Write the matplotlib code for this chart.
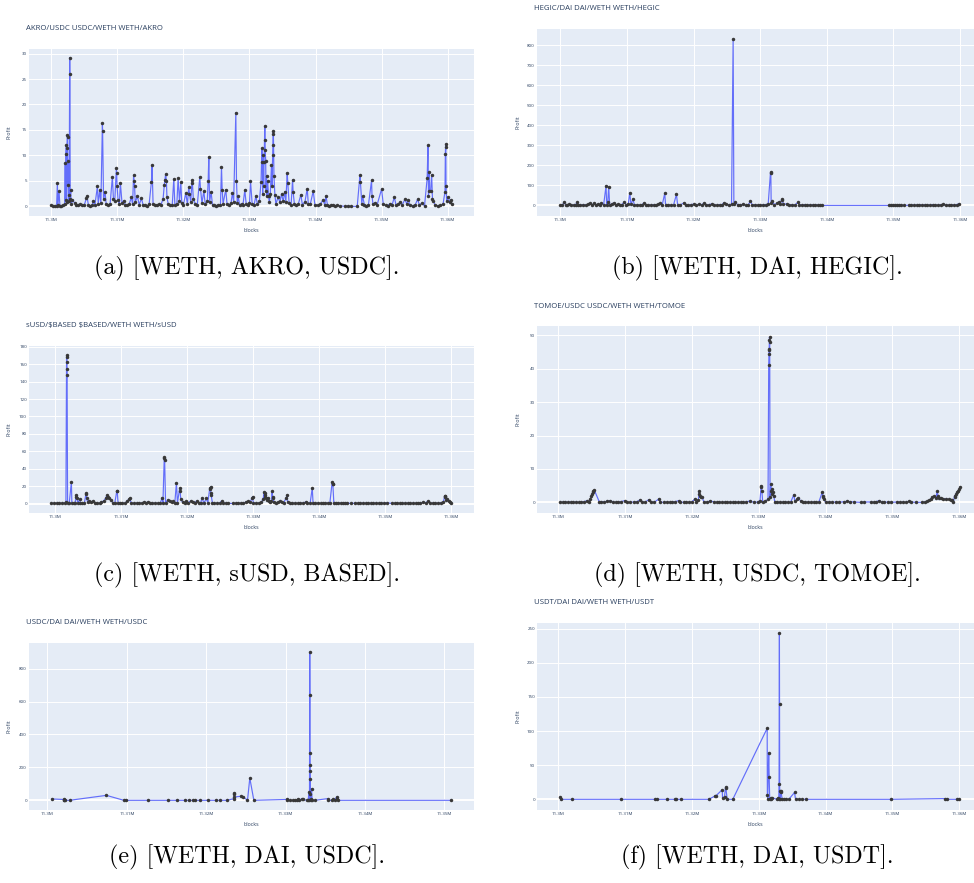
import matplotlib
matplotlib.use("Agg")
import matplotlib.pyplot as plt
from matplotlib.ticker import FuncFormatter, MultipleLocator

# (block in thousands, profit)

akro_points = [
    (11300.0, 0.2), (11300.25, 0.1), (11300.5, 0.0), (11300.8, 0.1), (11300.91, 4.5), (11301.0, 0.2),
    (11301.16, 3.0), (11301.3, 0.1), (11301.52, 0.0), (11301.8, 0.3), (11302.02, 0.5), (11302.1, 8.5),
    (11302.15, 1.2), (11302.2, 10.2), (11302.27, 12.0), (11302.3, 0.8), (11302.36, 11.5), (11302.42, 14.0),
    (11302.45, 13.6), (11302.5, 4.2), (11302.53, 9.0), (11302.6, 1.0), (11302.7, 2.2), (11302.78, 29.2),
    (11302.8, 26.0), (11302.86, 1.5), (11302.93, 3.3), (11303.0, 0.4), (11303.2, 1.3), (11303.54, 0.6),
    (11303.8, 0.3), (11304.1, 0.2), (11304.4, 0.4), (11304.7, 0.2), (11305.0, 0.3), (11305.3, 1.6),
    (11305.4, 2.0), (11305.6, 0.3), (11305.9, 0.1), (11306.2, 0.2), (11306.31, 1.0), (11306.6, 0.3),
    (11306.97, 3.9), (11307.1, 0.5), (11307.32, 3.2), (11307.5, 0.6), (11307.73, 16.3), (11307.76, 14.8),
    (11307.9, 1.5), (11308.13, 2.8), (11308.3, 0.4), (11308.6, 0.2), (11308.9, 0.5), (11309.24, 5.8),
    (11309.4, 1.4), (11309.6, 1.0), (11309.85, 7.5), (11309.9, 6.5), (11309.95, 4.0), (11310.1, 1.2),
    (11310.3, 0.4), (11310.45, 4.6), (11310.7, 0.6), (11310.96, 1.1), (11311.2, 0.3), (11311.5, 0.2),
    (11311.8, 0.5), (11312.12, 1.8), (11312.3, 0.4), (11312.45, 6.1), (11312.53, 5.0), (11312.6, 4.0),
    (11312.7, 0.8), (11313.03, 2.0), (11313.3, 0.3), (11313.64, 1.6), (11313.9, 0.2), (11314.2, 0.3),
    (11314.5, 0.1), (11314.8, 0.4), (11315.15, 4.8), (11315.25, 8.1), (11315.4, 0.5), (11315.7, 0.3),
    (11316.0, 0.2), (11316.3, 0.4), (11316.6, 0.3), (11316.92, 1.5), (11317.1, 4.2), (11317.2, 5.2),
    (11317.3, 6.3), (11317.42, 5.0), (11317.5, 1.8), (11317.7, 0.4), (11318.0, 0.3), (11318.3, 0.2),
    (11318.54, 5.4), (11318.7, 0.3), (11319.0, 0.5), (11319.19, 5.5), (11319.4, 1.0), (11319.6, 4.7),
    (11319.75, 0.6), (11320.0, 0.3), (11320.35, 2.6), (11320.6, 0.4), (11320.8, 3.8), (11320.91, 2.5),
    (11321.1, 0.9), (11321.3, 5.1), (11321.36, 4.5), (11321.5, 1.4), (11321.8, 0.5), (11322.1, 0.3),
    (11322.47, 5.7), (11322.58, 3.5), (11322.8, 0.6), (11323.08, 3.0), (11323.3, 0.4), (11323.6, 1.0),
    (11323.74, 4.9), (11323.84, 9.7), (11323.95, 0.8), (11324.19, 2.8), (11324.4, 0.2), (11324.7, 0.3),
    (11325.0, 0.1), (11325.3, 0.3), (11325.6, 0.2), (11325.76, 7.7), (11325.86, 3.3), (11326.0, 0.5),
    (11326.41, 3.3), (11326.6, 0.4), (11326.9, 0.3), (11327.2, 0.6), (11327.42, 2.7), (11327.6, 0.8),
    (11327.93, 18.4), (11328.03, 5.0), (11328.15, 0.6), (11328.28, 2.0), (11328.5, 0.3), (11328.8, 0.5),
    (11329.0, 0.2), (11329.29, 3.2), (11329.5, 0.4), (11329.8, 0.2), (11330.0, 0.6), (11330.15, 5.0),
    (11330.4, 0.5), (11330.7, 0.3), (11330.96, 2.0), (11331.2, 0.4), (11331.5, 1.0), (11331.75, 4.8),
    (11331.87, 11.4), (11331.95, 8.7), (11332.0, 2.5), (11332.07, 10.0), (11332.15, 4.0), (11332.2, 8.7),
    (11332.28, 13.0), (11332.32, 15.8), (11332.38, 11.0), (11332.45, 9.0), (11332.5, 3.0), (11332.58, 6.0),
    (11332.65, 2.0), (11332.75, 5.0), (11332.88, 2.0), (11333.0, 0.8), (11333.15, 2.4), (11333.33, 8.2),
    (11333.4, 4.0), (11333.5, 10.0), (11333.55, 12.0), (11333.59, 14.7), (11333.62, 14.3), (11333.7, 6.0),
    (11333.84, 2.3), (11334.0, 0.5), (11334.34, 1.8), (11334.6, 0.8), (11334.85, 2.4), (11335.1, 1.0),
    (11335.35, 2.9), (11335.5, 0.9), (11335.71, 6.6), (11335.8, 4.5), (11336.0, 0.6), (11336.3, 0.3),
    (11336.52, 5.2), (11336.6, 2.9), (11336.8, 0.4), (11337.1, 0.2), (11337.4, 0.5), (11337.78, 2.3),
    (11338.0, 0.3), (11338.4, 0.9), (11338.74, 3.5), (11338.9, 0.5), (11339.2, 0.4), (11339.65, 3.0),
    (11339.9, 0.3), (11340.3, 0.2), (11340.7, 0.4), (11341.16, 1.3), (11341.4, 0.2), (11341.57, 2.1),
    (11341.8, 0.3), (11342.1, 0.1), (11342.4, 0.2), (11342.68, 0.3), (11343.0, 0.1), (11343.3, 0.2),
    (11343.69, 0.1), (11344.5, 0.0), (11344.9, 0.1), (11345.3, 0.0), (11346.31, 0.0), (11346.72, 6.1),
    (11346.8, 4.7), (11347.0, 0.5), (11347.12, 2.0), (11347.4, 0.3), (11347.7, 0.1), (11348.0, 0.2),
    (11348.48, 5.1), (11348.55, 2.0), (11348.7, 0.4), (11348.99, 0.7), (11349.3, 0.2), (11350.0, 3.4),
    (11350.25, 0.4), (11350.6, 0.2), (11350.9, 0.1), (11351.26, 0.5), (11351.6, 0.3), (11351.92, 1.8),
    (11352.2, 0.2), (11352.5, 0.4), (11352.78, 0.8), (11353.1, 0.2), (11353.54, 1.4), (11353.8, 0.5),
    (11354.04, 1.3), (11354.3, 0.2), (11354.7, 0.1), (11355.1, 0.3), (11355.45, 1.4), (11355.7, 0.3),
    (11356.06, 0.6), (11356.5, 0.1), (11356.9, 5.5), (11357.02, 12.0), (11357.1, 2.0), (11357.17, 6.8),
    (11357.25, 3.0), (11357.42, 3.1), (11357.58, 6.2), (11357.7, 1.5), (11357.83, 1.0), (11358.1, 0.3),
    (11358.5, 0.1), (11358.9, 0.2), (11359.3, 0.4), (11359.6, 2.9), (11359.65, 10.2), (11359.7, 12.2),
    (11359.72, 11.6), (11359.75, 4.0), (11359.85, 1.0), (11360.1, 1.9), (11360.3, 0.8), (11360.45, 1.3),
    (11360.61, 0.5),
]

hegic_points = [
    (11300.0, 0), (11300.3, 2), (11300.6, 15), (11300.8, 1), (11301.0, 3), (11301.25, 5), (11301.6, 1),
    (11302.0, 2), (11302.3, 4), (11302.5, 15), (11302.7, 2), (11303.0, 1), (11303.4, 3), (11303.8, 2),
    (11304.2, 5), (11304.5, 12), (11304.8, 3), (11305.1, 10), (11305.4, 2), (11305.7, 8), (11306.0, 1),
    (11306.16, 12), (11306.5, 3), (11306.86, 98), (11306.95, 4), (11307.11, 15), (11307.26, 92),
    (11307.4, 3), (11307.7, 6), (11308.01, 12), (11308.3, 2), (11308.6, 5), (11308.9, 1), (11309.2, 4),
    (11309.61, 15), (11309.9, 3), (11310.2, 6), (11310.42, 63), (11310.6, 5), (11310.92, 32), (11311.1, 2),
    (11311.5, 4), (11311.9, 1), (11312.2, 3), (11312.52, 10), (11312.8, 2), (11313.2, 4), (11313.6, 1),
    (11314.0, 3), (11314.4, 2), (11314.7, 5), (11315.02, 12), (11315.3, 3), (11315.67, 60), (11315.8, 2),
    (11316.2, 4), (11316.6, 1), (11317.0, 3), (11317.43, 55), (11317.6, 4), (11318.0, 2), (11318.53, 12),
    (11318.8, 3), (11319.2, 1), (11319.6, 4), (11320.0, 6), (11320.4, 2), (11320.8, 5), (11321.2, 3),
    (11321.53, 10), (11321.9, 2), (11322.3, 4), (11322.7, 7), (11323.1, 3), (11323.5, 1), (11323.9, 4),
    (11324.2, 2), (11324.54, 12), (11324.9, 5), (11325.3, 3), (11325.7, 6), (11325.94, 830), (11326.05, 8),
    (11326.29, 15), (11326.6, 4), (11327.0, 2), (11327.4, 5), (11327.8, 1), (11328.2, 3), (11328.54, 20),
    (11328.8, 2), (11329.2, 4), (11329.6, 1), (11330.0, 3), (11330.4, 2), (11330.8, 4), (11331.2, 6),
    (11331.55, 165), (11331.6, 160), (11331.65, 12), (11331.8, 20), (11332.1, 4), (11332.5, 10),
    (11332.85, 18), (11333.0, 6), (11333.25, 30), (11333.3, 27), (11333.5, 5), (11334.05, 8), (11334.4, 2),
    (11334.8, 4), (11335.2, 1), (11335.65, 15), (11335.9, 3), (11336.3, 2), (11336.7, 4), (11337.1, 1),
    (11337.5, 3), (11337.9, 2), (11338.3, 4), (11338.7, 1), (11339.0, 2), (11339.31, 0), (11349.32, 0),
    (11349.6, 2), (11349.9, 1), (11350.2, 3), (11350.5, 1), (11350.8, 2), (11351.2, 1), (11351.58, 0),
    (11352.33, 1), (11352.7, 3), (11353.1, 1), (11353.5, 2), (11353.9, 4), (11354.3, 1), (11354.7, 3),
    (11355.1, 2), (11355.5, 1), (11355.9, 4), (11356.3, 2), (11356.7, 1), (11357.1, 3), (11357.5, 5),
    (11357.9, 2), (11358.3, 1), (11358.7, 3), (11359.1, 2), (11359.5, 4), (11359.84, 8),
]

susd_points = [
    (11299.4, 0.5), (11299.8, 0.3), (11300.2, 0.6), (11300.6, 0.4), (11301.0, 0.5), (11301.4, 0.8),
    (11301.6, 1.5), (11301.7, 170), (11301.72, 168), (11301.74, 163), (11301.76, 154), (11301.78, 147),
    (11301.85, 1.0), (11302.1, 0.5), (11302.43, 25), (11302.5, 0.8), (11302.8, 0.4), (11303.0, 1.0),
    (11303.15, 10), (11303.2, 8), (11303.25, 6), (11303.4, 1.2), (11303.69, 5), (11303.8, 0.5),
    (11304.1, 0.3), (11304.4, 0.6), (11304.65, 12), (11304.7, 11), (11304.75, 6), (11304.9, 1.5),
    (11305.11, 3), (11305.4, 2), (11305.71, 3), (11306.0, 1.0), (11306.3, 0.4), (11306.7, 0.5),
    (11306.98, 2), (11307.3, 3), (11307.6, 6), (11307.84, 10), (11308.0, 8), (11308.2, 6), (11308.49, 4),
    (11308.7, 1), (11309.0, 0.5), (11309.3, 14), (11309.38, 14), (11309.5, 0.8), (11309.8, 0.4),
    (11310.1, 0.6), (11310.5, 0.3), (11310.9, 3), (11311.1, 5), (11311.27, 6), (11311.5, 0.8),
    (11311.9, 0.4), (11312.3, 0.5), (11312.7, 0.3), (11313.1, 0.6), (11313.5, 2), (11313.8, 0.4),
    (11314.0, 2), (11314.3, 0.5), (11314.7, 0.3), (11315.1, 0.6), (11315.5, 0.4), (11315.9, 0.5),
    (11316.18, 7), (11316.3, 1), (11316.5, 52), (11316.53, 53), (11316.56, 50), (11316.7, 0.8),
    (11317.0, 4), (11317.34, 3), (11317.6, 1.5), (11317.9, 2.5), (11318.1, 1), (11318.35, 24),
    (11318.5, 1), (11318.85, 18), (11318.91, 14), (11319.0, 5), (11319.3, 1.5), (11319.6, 0.8),
    (11319.87, 2.5), (11320.1, 1), (11320.5, 3), (11320.8, 2), (11321.1, 0.6), (11321.39, 3),
    (11321.7, 0.5), (11322.0, 0.4), (11322.24, 7), (11322.5, 0.6), (11322.9, 6), (11323.1, 1),
    (11323.4, 18), (11323.45, 17), (11323.51, 19), (11323.55, 12), (11323.6, 10), (11323.8, 1),
    (11324.1, 0.5), (11324.5, 0.4), (11324.9, 0.6), (11325.18, 3), (11325.4, 1), (11325.8, 0.5),
    (11326.2, 0.3), (11326.95, 0.2), (11327.3, 0.4), (11327.7, 0.3), (11328.1, 0.5), (11328.5, 0.4),
    (11328.9, 2), (11329.22, 2.5), (11329.5, 2), (11329.8, 6), (11329.88, 8), (11330.0, 1),
    (11330.4, 0.5), (11330.8, 0.6), (11331.2, 1.5), (11331.5, 5), (11331.6, 13), (11331.7, 12),
    (11331.75, 10), (11331.8, 8), (11331.9, 6), (11332.0, 5), (11332.1, 4), (11332.2, 7), (11332.3, 3),
    (11332.5, 1.5), (11332.75, 3), (11332.85, 14), (11332.91, 8), (11333.0, 6), (11333.1, 2),
    (11333.4, 0.8), (11333.7, 1.5), (11334.02, 3), (11334.3, 2), (11334.6, 1), (11335.0, 7),
    (11335.09, 10), (11335.2, 1.5), (11335.5, 0.6), (11335.9, 0.4), (11336.3, 0.5), (11336.7, 0.3),
    (11337.1, 1), (11337.5, 0.4), (11337.92, 2), (11338.2, 0.5), (11338.6, 0.3), (11338.93, 18),
    (11339.05, 0.5), (11339.4, 0.3), (11339.8, 0.6), (11340.2, 0.4), (11340.6, 0.5), (11340.9, 1),
    (11341.3, 0.6), (11341.6, 1.2), (11341.95, 25), (11342.01, 23), (11342.05, 22), (11342.2, 1),
    (11342.5, 0.6), (11342.9, 0.4), (11343.3, 0.8), (11343.63, 1), (11343.9, 0.3), (11344.2, 0.5),
    (11344.79, 0.3), (11345.4, 0.4), (11345.8, 0.3), (11346.2, 0.6), (11346.6, 0.4), (11347.0, 0.5),
    (11347.4, 0.3), (11347.8, 0.5), (11348.2, 0.4), (11348.6, 0.6), (11349.0, 0.3), (11349.4, 0.5),
    (11349.8, 0.4), (11350.2, 1), (11350.96, 0.3), (11351.4, 0.4), (11351.8, 0.5), (11352.22, 0.3),
    (11352.6, 0.5), (11353.0, 0.4), (11353.4, 0.6), (11353.8, 0.3), (11354.2, 0.5), (11354.6, 0.4),
    (11355.0, 0.6), (11355.26, 0.3), (11355.76, 1.5), (11356.1, 1.0), (11356.52, 3), (11356.8, 0.5),
    (11357.2, 0.4), (11357.6, 0.6), (11358.0, 0.5), (11358.4, 1), (11358.8, 2), (11359.0, 9),
    (11359.05, 9), (11359.1, 8), (11359.2, 4), (11359.4, 5), (11359.6, 3), (11359.8, 1.5), (11359.91, 1),
]

tomoe_points = [
    (11300.35, 0.1), (11300.7, 0.0), (11301.1, 0.1), (11301.5, 0.0), (11301.9, 0.1), (11302.3, 0.0),
    (11302.7, 0.1), (11303.1, 0.0), (11303.5, 0.1), (11303.9, 0.2), (11304.34, 0.5), (11304.6, 0.2),
    (11304.84, 1.0), (11305.0, 2.0), (11305.09, 2.6), (11305.2, 3.0), (11305.3, 3.3), (11305.44, 3.6),
    (11306.18, 0.1), (11306.5, 0.2), (11306.9, 0.1), (11307.3, 0.3), (11307.83, 0.5), (11308.2, 0.1),
    (11308.6, 0.0), (11309.0, 0.1), (11309.4, 0.2), (11309.98, 0.5), (11310.3, 0.1), (11310.7, 0.0),
    (11311.32, 0.1), (11311.8, 0.2), (11312.32, 0.8), (11312.6, 0.1), (11313.0, 0.0), (11313.57, 0.8),
    (11313.9, 0.1), (11314.4, 0.0), (11315.06, 1.0), (11315.3, 0.1), (11315.8, 0.0), (11316.31, 0.1),
    (11316.7, 0.0), (11317.1, 0.1), (11317.5, 0.2), (11318.05, 0.5), (11318.3, 0.1), (11318.8, 0.0),
    (11319.2, 0.1), (11319.6, 0.0), (11320.0, 0.1), (11320.45, 1.0), (11320.7, 0.1), (11321.0, 0.8),
    (11321.1, 3.3), (11321.15, 2.5), (11321.2, 2.0), (11321.4, 1.5), (11321.55, 1.7), (11321.8, 0.0),
    (11322.2, 0.1), (11322.79, 0.4), (11323.29, 0.1), (11323.7, 0.0), (11324.1, 0.1), (11324.5, 0.0),
    (11324.9, 0.1), (11325.3, 0.0), (11325.7, 0.1), (11326.1, 0.0), (11326.5, 0.1), (11326.9, 0.0),
    (11327.3, 0.1), (11327.7, 0.0), (11328.1, 0.1), (11328.68, 0.4), (11329.28, 0.0), (11329.9, 0.1),
    (11330.2, 0.5), (11330.37, 5.0), (11330.42, 4.5), (11330.47, 3.5), (11330.6, 0.2), (11331.0, 0.3),
    (11331.4, 1.0), (11331.5, 41.0), (11331.53, 44.5), (11331.55, 45.5), (11331.57, 46.0),
    (11331.6, 48.5), (11331.62, 49.5), (11331.65, 48.0), (11331.7, 1.5), (11331.8, 5.5), (11331.9, 3.5),
    (11332.0, 2.5), (11332.05, 4.0), (11332.15, 3.0), (11332.25, 2.0), (11332.4, 0.2), (11332.77, 0.0),
    (11333.2, 0.1), (11333.6, 0.0), (11334.0, 0.1), (11334.4, 0.0), (11334.8, 0.1), (11335.26, 2.3),
    (11335.4, 0.3), (11335.76, 1.0), (11335.9, 1.2), (11336.26, 0.5), (11336.6, 0.1), (11337.0, 0.0),
    (11337.4, 0.1), (11337.8, 0.0), (11338.2, 0.1), (11338.6, 0.0), (11339.0, 0.1), (11339.5, 3.0),
    (11339.6, 2.0), (11339.65, 1.5), (11339.75, 1.0), (11340.0, 0.0), (11340.5, 0.1), (11341.0, 0.0),
    (11341.5, 0.1), (11342.0, 0.0), (11342.74, 0.2), (11343.2, 0.3), (11343.7, 0.2), (11344.24, 0.1),
    (11345.24, 0.0), (11345.74, 0.1), (11346.73, 0.1), (11347.2, 0.0), (11347.6, 0.2), (11347.98, 0.5),
    (11348.4, 0.1), (11348.8, 0.0), (11349.3, 0.1), (11349.73, 0.0), (11350.72, 0.1), (11351.2, 0.0),
    (11351.6, 0.1), (11352.0, 0.0), (11352.47, 0.3), (11352.8, 0.1), (11353.47, 0.0), (11354.46, 0.0),
    (11354.8, 0.1), (11355.2, 0.3), (11355.5, 0.6), (11355.71, 1.0), (11355.9, 1.5), (11356.21, 1.8),
    (11356.5, 1.4), (11356.7, 3.3), (11356.81, 2.0), (11357.0, 1.3), (11357.21, 1.2), (11357.6, 1.1),
    (11358.0, 1.0), (11358.4, 0.9), (11358.8, 0.7), (11358.95, 0.6), (11359.1, 0.0), (11359.3, 2.0),
    (11359.4, 1.5), (11359.5, 2.5), (11359.7, 3.0), (11359.85, 3.5), (11360.0, 4.0), (11360.1, 4.5),
]

usdc_points = [
    (11300.59, 8), (11302.05, 5), (11302.1, 2), (11302.15, 0), (11302.27, 0), (11302.82, 0),
    (11307.44, 30), (11309.62, 0), (11309.96, 0), (11312.65, 0), (11315.21, 0), (11316.39, 0),
    (11317.31, 0), (11317.82, 0), (11318.36, 0), (11318.57, 0), (11319.29, 0), (11320.25, 0),
    (11321.22, 0), (11321.72, 0), (11322.65, 0), (11323.5, 10), (11323.53, 45), (11323.55, 40),
    (11323.57, 20), (11324.45, 25), (11324.7, 20), (11325.21, 0), (11325.5, 135), (11326.01, 0),
    (11330.13, 5), (11330.2, 0), (11330.55, 0), (11331.0, 0), (11331.18, 2), (11331.4, 0),
    (11331.6, 5), (11331.7, 2), (11332.02, 8), (11332.23, 5), (11332.7, 0), (11332.86, 2),
    (11332.95, 50), (11333.0, 0), (11333.02, 40), (11333.05, 900), (11333.07, 640), (11333.08, 290),
    (11333.09, 215), (11333.1, 175), (11333.12, 130), (11333.15, 0), (11333.2, 5), (11333.28, 70),
    (11333.35, 0), (11333.7, 0), (11335.3, 10), (11335.38, 0), (11335.8, 0), (11336.01, 5),
    (11336.2, 0), (11336.43, 20), (11336.5, 5), (11336.64, 0), (11350.8, 0),
]

usdt_points = [
    (11300.25, 3), (11300.45, 0), (11302.09, 0), (11309.48, 0), (11314.46, 0), (11314.81, 0),
    (11316.31, 0), (11317.46, 0), (11317.71, 0), (11318.45, 0), (11322.54, 0), (11323.5, 5),
    (11323.6, 5), (11324.54, 14), (11324.6, 2), (11324.89, 4), (11325.05, 18), (11325.09, 17),
    (11325.29, 0), (11326.13, 0), (11331.27, 104), (11331.3, 7), (11331.35, 0), (11331.5, 68),
    (11331.57, 33), (11331.65, 0), (11331.77, 2), (11331.9, 0), (11332.02, 2), (11332.77, 0),
    (11332.9, 2), (11333.0, 0), (11333.05, 23), (11333.1, 243), (11333.12, 140), (11333.14, 12),
    (11333.2, 0), (11333.3, 12), (11333.37, 10), (11333.5, 0), (11333.77, 0), (11334.1, 0),
    (11334.51, 0), (11335.36, 10), (11335.51, 0), (11336.0, 0), (11336.51, 0), (11337.01, 0),
    (11349.73, 0), (11357.81, 1), (11358.21, 0), (11359.6, 0), (11359.95, 0),
]

titles = [
    "AKRO/USDC USDC/WETH WETH/AKRO",
    "HEGIC/DAI DAI/WETH WETH/HEGIC",
    "sUSD/$BASED $BASED/WETH WETH/sUSD",
    "TOMOE/USDC USDC/WETH WETH/TOMOE",
    "USDC/DAI DAI/WETH WETH/USDC",
    "USDT/DAI DAI/WETH WETH/USDT",
]
captions = [
    "(a) [WETH, AKRO, USDC].",
    "(b) [WETH, DAI, HEGIC].",
    "(c) [WETH, sUSD, BASED].",
    "(d) [WETH, USDC, TOMOE].",
    "(e) [WETH, DAI, USDC].",
    "(f) [WETH, DAI, USDT].",
]

W, H = 974, 883
BG = "#e5ecf6"
FG = "#2a3f5f"
LINE = "#636efa"
MARK = "#383838"


def block_fmt(v, _pos):
    return f"{v / 1e6:g}M"


def draw_panel(fig, rect_px, points, xlim, ylim, ystep, title, title_px, caption, caption_px):
    left, top, right, bottom = rect_px
    ax = fig.add_axes([left / W, 1 - bottom / H, (right - left) / W, (bottom - top) / H])
    ax.set_facecolor(BG)
    for s in ax.spines.values():
        s.set_visible(False)

    blocks = [p[0] * 1000 for p in points]
    profit = [p[1] for p in points]
    ax.axhline(0, color="white", lw=1.4, zorder=1)
    ax.plot(blocks, profit, color=LINE, lw=0.85, zorder=2)
    ax.plot(blocks, profit, ls="none", marker="o", ms=2.5,
            mfc=MARK, mec=MARK, mew=0, zorder=3)

    ax.set_xlim(*xlim)
    ax.set_ylim(*ylim)
    ax.xaxis.set_major_locator(MultipleLocator(10000))
    ax.xaxis.set_major_formatter(FuncFormatter(block_fmt))
    ax.yaxis.set_major_locator(MultipleLocator(ystep))
    ax.grid(True, color="white", lw=0.7, zorder=0)
    ax.set_axisbelow(True)
    ax.tick_params(length=0, labelsize=3.2, labelcolor=FG, pad=1.5)

    w = right - left
    h = bottom - top
    ax.set_xlabel("blocks", fontsize=3.8, color=FG)
    ax.xaxis.set_label_coords(0.5, -12 / h)
    ax.set_ylabel("Profit", fontsize=3.8, color=FG)
    ax.yaxis.set_label_coords(-17 / w, 0.5)

    fig.text(title_px[0] / W, 1 - title_px[1] / H, title, fontsize=5.6, color=FG,
             ha="left", va="center", family="Open Sans", parse_math=False)
    fig.text(caption_px[0] / W, 1 - caption_px[1] / H, caption, fontsize=17.3,
             ha="center", va="center", family="cmr10")
    return ax


def main():
    plt.rcParams["font.family"] = ["Open Sans", "DejaVu Sans"]
    fig = plt.figure(figsize=(W / 100, H / 100), dpi=100)
    fig.patch.set_facecolor("white")

    draw_panel(fig, (29, 49, 474, 216), akro_points, (11296616, 11363990), (-1.9, 30.9), 5,
               titles[0], (26, 29), captions[0], (247, 268))
    draw_panel(fig, (537, 29, 974, 216), hegic_points, (11296495, 11362100), (-53, 880), 100,
               titles[1], (534, 9), captions[1], (757, 268))
    draw_panel(fig, (29, 346, 474, 513), susd_points, (11296006, 11363438), (-10.7, 180.8), 20,
               titles[2], (26, 326), captions[2], (247, 575))
    draw_panel(fig, (537, 326, 974, 513), tomoe_points, (11296858, 11362194), (-3.2, 52.8), 10,
               titles[3], (534, 307), captions[3], (757, 575))
    draw_panel(fig, (29, 643, 474, 810), usdc_points, (11297689, 11353739), (-59, 956), 200,
               titles[4], (26, 623), captions[4], (247, 857))
    draw_panel(fig, (537, 623, 974, 810), usdt_points, (11296850, 11362200), (-15.7, 258.3), 50,
               titles[5], (534, 603), captions[5], (757, 857))

    fig.savefig("out.png", dpi=100, facecolor="white")


if __name__ == "__main__":
    main()
